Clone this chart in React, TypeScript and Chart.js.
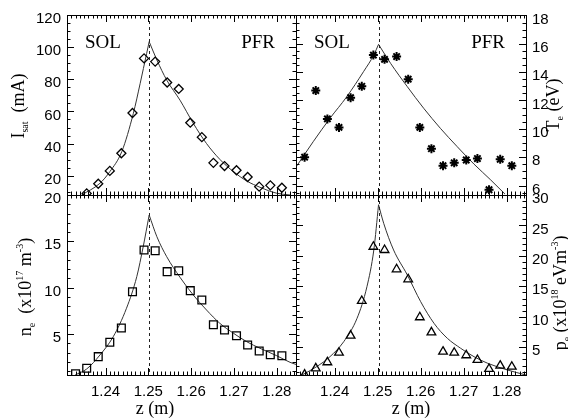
import React, { useEffect, useRef } from "react";
import { Chart, registerables } from "chart.js";

Chart.register(...registerables);

const W = 568;
const H = 418;
const SANS = '"Liberation Sans", Arial, sans-serif';
const SERIF = '"Liberation Serif", "Times New Roman", serif';

// ---------- z axis ----------
const zMin = 1.231;
const zMax = 1.2845;
const zTickValues = [1.24, 1.25, 1.26, 1.27, 1.28];
const zMinorStep = 0.001;
const separatrixZ = 1.2502;

// ---------- measurement positions (m) ----------
const zMeas = [
  1.233, 1.2356, 1.2383, 1.241, 1.2437, 1.2463, 1.249, 1.2516, 1.2544, 1.2571,
  1.2598, 1.2625, 1.2652, 1.2678, 1.2706, 1.2732, 1.2759, 1.2785, 1.2812,
];

// ---------- measured values ----------
const isatMeas = [null, 9, 15, 23, 34, 59, 93, 91, 78, 74, 53, 44, 28, 26, 23.4, 19.2, 13.2, 14, 12.5];
const teMeas = [8.0, 12.7, 10.7, 10.1, 12.2, 13.0, 15.2, 14.9, 15.1, 13.5, 10.1, 8.6, 7.4, 7.6, 7.8, 7.9, 5.7, 7.85, 7.4];
const neMeas = [0.72, 1.3, 2.56, 4.11, 5.65, 9.57, 14.07, 13.99, 11.73, 11.83, 9.68, 8.67, 6.01, 5.44, 4.82, 3.82, 3.17, 2.77, 2.66];
const peMeas = [0.5, 1.54, 2.53, 4.1, 6.9, 12.6, 21.5, 20.97, 17.8, 16.16, 9.92, 7.45, 4.27, 4.1, 3.68, 2.91, 1.43, 1.97, 1.8];

// ---------- fitted curves (SOL side / PFR side) ----------
const isatFitSolZ = [1.2344, 1.2387, 1.241, 1.2438, 1.2465, 1.2481, 1.2496, 1.2502];
const isatFitSol = [8, 15.3, 22.5, 35, 58.8, 77.5, 96, 103.4];
const isatFitPfrZ = [1.2502, 1.252, 1.2543, 1.2574, 1.2605, 1.2636, 1.2667, 1.2699, 1.273, 1.2761, 1.28, 1.2831];
const isatFitPfr = [103.4, 92, 79.5, 67, 52.6, 40, 30.2, 22.5, 16.7, 12.8, 9.1, 8];

const teFitSolZ = [1.2312, 1.235, 1.2389, 1.2428, 1.2467, 1.2491, 1.2502];
const teFitSol = [7.39, 9.09, 10.74, 12.26, 14.03, 15.21, 15.96];
const teFitPfrZ = [1.2502, 1.253, 1.2569, 1.2607, 1.2646, 1.2685, 1.2724, 1.2763, 1.2796];
const teFitPfr = [15.96, 14.62, 12.97, 11.45, 10.03, 8.74, 7.51, 6.39, 5.4];

const neFitSolZ = [1.2329, 1.2356, 1.2387, 1.2418, 1.2449, 1.2473, 1.2488, 1.2502];
const neFitSol = [0.58, 1.23, 2.74, 4.71, 7.78, 11.19, 14.42, 17.84];
const neFitPfrZ = [1.2502, 1.252, 1.2543, 1.2574, 1.2605, 1.2636, 1.2667, 1.2699, 1.273, 1.2761, 1.28, 1.2831, 1.2845];
const neFitPfr = [17.84, 15.5, 13.34, 11.12, 9.21, 7.59, 6.16, 5.08, 4.17, 3.46, 2.66, 1.95, 1.72];

const peFitSolZ = [1.2323, 1.2358, 1.2389, 1.2421, 1.2452, 1.2475, 1.2491, 1.2502];
const peFitSol = [0.4, 1.81, 3.45, 5.91, 9.75, 14.94, 20.97, 28.4];
const peFitPfrZ = [1.2502, 1.2514, 1.2537, 1.2569, 1.26, 1.2631, 1.2662, 1.2693, 1.2724, 1.2756, 1.2802, 1.2845];
const peFitPfr = [28.4, 25.35, 20.97, 16.86, 12.48, 8.93, 6.47, 4.83, 3.45, 2.36, 1.26, 0.44];

// ---------- y axes ----------
const isatTicks = [20, 40, 60, 80, 100, 120];
const teTicks = [6, 8, 10, 12, 14, 16, 18];
const neTicks = [5, 10, 15, 20];
const peTicks = [5, 10, 15, 20, 25, 30];

type Part = { t: string; s: number; dy: number };

type PanelSpec = {
  area: { l: number; t: number; r: number; b: number };
  side: "left" | "right";
  yMin: number;
  yMax: number;
  yTicks: number[];
  yMinor: number;
  showX: boolean;
  meas: (number | null)[];
  pointStyle: string;
  radius: number;
  fitSolZ: number[];
  fitSol: number[];
  fitPfrZ: number[];
  fitPfr: number[];
  title: Part[];
  titleBaseX: number;
  titleCY: number;
  regions: boolean;
  zLabelX?: number;
};

const Y_AXIS_W = 40;
const X_AXIS_H = 40;

const panels: PanelSpec[] = [
  {
    area: { l: 67, t: 15, r: 296, b: 195 },
    side: "left",
    yMin: 8,
    yMax: 120,
    yTicks: isatTicks,
    yMinor: 5,
    showX: false,
    meas: isatMeas,
    pointStyle: "rectRot",
    radius: 4.5,
    fitSolZ: isatFitSolZ,
    fitSol: isatFitSol,
    fitPfrZ: isatFitPfrZ,
    fitPfr: isatFitPfr,
    title: [
      { t: "I", s: 18, dy: 0 },
      { t: "sat", s: 10, dy: 4 },
      { t: "  (mA)", s: 18, dy: 0 },
    ],
    titleBaseX: 24,
    titleCY: 106,
    regions: true,
  },
  {
    area: { l: 296, t: 15, r: 526, b: 195 },
    side: "right",
    yMin: 5.33,
    yMax: 18.03,
    yTicks: teTicks,
    yMinor: 0.5,
    showX: false,
    meas: teMeas,
    pointStyle: "star",
    radius: 4.5,
    fitSolZ: teFitSolZ,
    fitSol: teFitSol,
    fitPfrZ: teFitPfrZ,
    fitPfr: teFitPfr,
    title: [
      { t: "T", s: 18, dy: 0 },
      { t: "e", s: 10, dy: 4 },
      { t: " (eV)", s: 18, dy: 0 },
    ],
    titleBaseX: 559,
    titleCY: 105,
    regions: true,
  },
  {
    area: { l: 67, t: 195, r: 296, b: 375 },
    side: "left",
    yMin: 0.58,
    yMax: 20,
    yTicks: neTicks,
    yMinor: 1,
    showX: true,
    meas: neMeas,
    pointStyle: "rect",
    radius: 5.5,
    fitSolZ: neFitSolZ,
    fitSol: neFitSol,
    fitPfrZ: neFitPfrZ,
    fitPfr: neFitPfr,
    title: [
      { t: "n", s: 18, dy: 0 },
      { t: "e", s: 10, dy: 4 },
      { t: "  (x10", s: 18, dy: 0 },
      { t: "17", s: 10, dy: -8 },
      { t: " m", s: 18, dy: 0 },
      { t: "-3", s: 10, dy: -8 },
      { t: ")", s: 18, dy: 0 },
    ],
    titleBaseX: 31,
    titleCY: 287,
    regions: false,
    zLabelX: 155,
  },
  {
    area: { l: 296, t: 195, r: 526, b: 375 },
    side: "right",
    yMin: 0.44,
    yMax: 30,
    yTicks: peTicks,
    yMinor: 1,
    showX: true,
    meas: peMeas,
    pointStyle: "triangle",
    radius: 5,
    fitSolZ: peFitSolZ,
    fitSol: peFitSol,
    fitPfrZ: peFitPfrZ,
    fitPfr: peFitPfr,
    title: [
      { t: "p", s: 18, dy: 0 },
      { t: "e", s: 10, dy: 4 },
      { t: " (x10", s: 18, dy: 0 },
      { t: "18", s: 10, dy: -8 },
      { t: " eVm", s: 18, dy: 0 },
      { t: "-3", s: 10, dy: -8 },
      { t: ")", s: 18, dy: 0 },
    ],
    titleBaseX: 566,
    titleCY: 293,
    regions: false,
    zLabelX: 411,
  },
];

function drawVerticalRich(ctx: CanvasRenderingContext2D, parts: Part[], baseX: number, cy: number) {
  const widths = parts.map((p) => {
    ctx.font = `${p.s}px ${SERIF}`;
    return ctx.measureText(p.t).width;
  });
  const total = widths.reduce((a, b) => a + b, 0);
  ctx.save();
  ctx.translate(baseX, cy);
  ctx.rotate(-Math.PI / 2);
  ctx.fillStyle = "#000";
  ctx.textBaseline = "alphabetic";
  ctx.textAlign = "left";
  let xx = -total / 2;
  parts.forEach((p, i) => {
    ctx.font = `${p.s}px ${SERIF}`;
    ctx.fillText(p.t, xx, p.dy);
    xx += widths[i];
  });
  ctx.restore();
}

function makeDecor(panel: PanelSpec) {
  return {
    id: "panelDecor",
    afterDraw(chart: any) {
      const ctx: CanvasRenderingContext2D = chart.ctx;
      const { left, right, top, bottom } = chart.chartArea;
      const xs = chart.scales.x;
      const ys = chart.scales.y;
      ctx.save();
      ctx.strokeStyle = "#000";
      ctx.lineWidth = 1;
      ctx.setLineDash([]);
      // frame
      ctx.strokeRect(Math.round(left) + 0.5, Math.round(top) + 0.5, Math.round(right - left), Math.round(bottom - top));
      // x ticks (inward, top & bottom)
      ctx.beginPath();
      const k0 = Math.ceil(zMin / zMinorStep - 1e-6);
      const k1 = Math.floor(zMax / zMinorStep + 1e-6);
      for (let k = k0; k <= k1; k++) {
        const v = k * zMinorStep;
        const major = zTickValues.some((t) => Math.abs(t - v) < 1e-7);
        const len = major ? 7 : 3.5;
        const px = Math.round(xs.getPixelForValue(v)) + 0.5;
        ctx.moveTo(px, bottom);
        ctx.lineTo(px, bottom - len);
        ctx.moveTo(px, top);
        ctx.lineTo(px, top + len);
      }
      // y ticks (inward, left & right)
      const j0 = Math.ceil(panel.yMin / panel.yMinor - 1e-6);
      const j1 = Math.floor(panel.yMax / panel.yMinor + 1e-6);
      for (let j = j0; j <= j1; j++) {
        const v = j * panel.yMinor;
        const major = panel.yTicks.some((t) => Math.abs(t - v) < 1e-7);
        const len = major ? 7 : 3.5;
        const py = Math.round(ys.getPixelForValue(v)) + 0.5;
        ctx.moveTo(left, py);
        ctx.lineTo(left + len, py);
        ctx.moveTo(right, py);
        ctx.lineTo(right - len, py);
      }
      ctx.stroke();
      // separatrix dashed line
      const sx = Math.round(xs.getPixelForValue(separatrixZ)) + 0.5;
      ctx.beginPath();
      ctx.setLineDash([3, 3]);
      ctx.strokeStyle = "#222";
      ctx.moveTo(sx, top);
      ctx.lineTo(sx, bottom);
      ctx.stroke();
      ctx.setLineDash([]);
      // region labels
      ctx.fillStyle = "#000";
      if (panel.regions) {
        ctx.font = `19px ${SERIF}`;
        ctx.textBaseline = "alphabetic";
        ctx.textAlign = "left";
        ctx.fillText("SOL", left + 18, top + 33);
        ctx.textAlign = "right";
        ctx.fillText("PFR", right - 21, top + 33);
      }
      // axis title
      drawVerticalRich(ctx, panel.title, panel.titleBaseX, panel.titleCY);
      // z label
      if (panel.zLabelX !== undefined) {
        ctx.font = `18px ${SERIF}`;
        ctx.textAlign = "center";
        ctx.textBaseline = "alphabetic";
        ctx.fillText("z (m)", panel.zLabelX, 414);
      }
      ctx.restore();
    },
  };
}

function buildConfig(panel: PanelSpec): any {
  const measData = zMeas
    .map((z, i) => ({ x: z, y: panel.meas[i] }))
    .filter((p) => p.y !== null && p.y !== undefined);
  const sol = panel.fitSolZ.map((z, i) => ({ x: z, y: panel.fitSol[i] }));
  const pfr = panel.fitPfrZ.map((z, i) => ({ x: z, y: panel.fitPfr[i] }));
  const a = panel.area;
  const padLeft = panel.side === "left" ? a.l - Y_AXIS_W : a.l;
  const padRight = panel.side === "right" ? W - a.r - Y_AXIS_W : W - a.r;
  const padBottom = panel.showX ? H - a.b - X_AXIS_H : H - a.b;
  const lineDs = (data: any[]) => ({
    data,
    showLine: true,
    borderColor: "#333",
    borderWidth: 1,
    pointRadius: 0,
    fill: false,
    cubicInterpolationMode: "monotone",
  });
  return {
    type: "scatter",
    data: {
      datasets: [
        {
          data: measData,
          showLine: false,
          pointStyle: panel.pointStyle,
          pointRadius: panel.radius,
          pointBorderColor: "#000",
          pointBackgroundColor: "rgba(0,0,0,0)",
          pointBorderWidth: panel.pointStyle === "star" ? 2 : 1.3,
        },
        lineDs(sol),
        lineDs(pfr),
      ],
    },
    options: {
      responsive: false,
      maintainAspectRatio: false,
      animation: false,
      events: [],
      layout: { padding: { left: padLeft, right: padRight, top: a.t, bottom: padBottom } },
      plugins: { legend: { display: false }, tooltip: { enabled: false }, title: { display: false } },
      scales: {
        x: {
          type: "linear",
          position: "bottom",
          min: zMin,
          max: zMax,
          display: panel.showX,
          grid: { display: false, drawTicks: false },
          border: { display: false },
          ticks: {
            color: "#000",
            font: { family: SANS, size: 15 },
            padding: 8,
            maxRotation: 0,
            autoSkip: false,
            callback: (v: number) => v.toFixed(2),
          },
          afterBuildTicks: (s: any) => {
            s.ticks = zTickValues.map((v) => ({ value: v }));
          },
          afterFit: (s: any) => {
            s.height = panel.showX ? X_AXIS_H : 0;
          },
        },
        y: {
          type: "linear",
          position: panel.side,
          min: panel.yMin,
          max: panel.yMax,
          grid: { display: false, drawTicks: false },
          border: { display: false },
          ticks: {
            color: "#000",
            font: { family: SANS, size: 15 },
            padding: 6,
            labelOffset: 4,
            autoSkip: false,
            callback: (v: number) => String(v),
          },
          afterBuildTicks: (s: any) => {
            s.ticks = panel.yTicks.map((v) => ({ value: v }));
          },
          afterFit: (s: any) => {
            s.width = Y_AXIS_W;
          },
        },
      },
    },
    plugins: [makeDecor(panel)],
  };
}

function PanelChart({ panel }: { panel: PanelSpec }) {
  const ref = useRef<HTMLCanvasElement | null>(null);
  useEffect(() => {
    if (!ref.current) return;
    const chart = new Chart(ref.current, buildConfig(panel));
    return () => chart.destroy();
  }, [panel]);
  return (
    <canvas
      ref={ref}
      width={W}
      height={H}
      style={{ position: "absolute", left: 0, top: 0, width: W, height: H }}
    />
  );
}

export default function App() {
  return (
    <div
      style={{
        position: "absolute",
        left: 0,
        top: 0,
        width: W,
        height: H,
        background: "#fff",
        overflow: "hidden",
      }}
    >
      {panels.map((p, i) => (
        <PanelChart key={i} panel={p} />
      ))}
    </div>
  );
}
